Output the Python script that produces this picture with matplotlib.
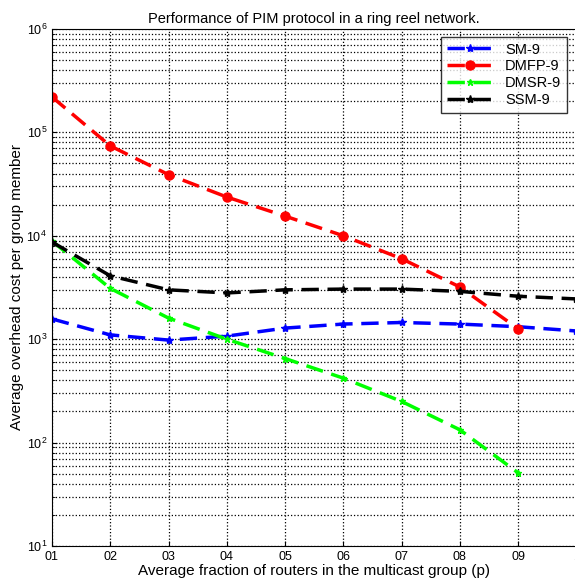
import numpy as np
import matplotlib
matplotlib.use('Agg')
import matplotlib.pyplot as plt
from matplotlib.ticker import LogLocator, NullFormatter

plt.rcParams['font.family'] = ['Liberation Sans', 'DejaVu Sans']

# Data
p = [0.1, 0.2, 0.3, 0.4, 0.5, 0.6, 0.7, 0.8, 0.9, 1.0]
sm9 = [1570, 1100, 980, 1070, 1280, 1400, 1450, 1400, 1320, 1200]
dmfp9 = [220000, 74000, 39000, 23700, 15500, 10000, 6000, 3200, 1260]
dmsr9 = [8900, 3100, 1600, 1000, 650, 420, 250, 133, 51]
ssm9 = [8700, 4100, 3000, 2800, 3000, 3050, 3050, 2900, 2600, 2450]
xtick_labels = ['01', '02', '03', '04', '05', '06', '07', '08', '09', '1']

fig = plt.figure(figsize=(5.75, 5.79), dpi=100)
ax = fig.add_axes([0.0904, 0.057, 0.912, 0.893])

dash = (0, (5, 2.5))
ax.plot(p, sm9, color='#0000ff', linestyle=dash, linewidth=2.5,
        marker='*', markersize=6, label='SM-9')
ax.plot(p[:len(dmfp9)], dmfp9, color='#ff0000', linestyle=dash, linewidth=2.5,
        marker='o', markersize=6.5, markerfacecolor='#ff0000', label='DMFP-9')
ax.plot(p[:len(dmsr9)], dmsr9, color='#00ff00', linestyle=dash, linewidth=2.5,
        marker='*', markersize=5, label='DMSR-9')
ax.plot(p, ssm9, color='black', linestyle=dash, linewidth=2.5,
        marker='*', markersize=6, label='SSM-9')

ax.set_yscale('log')
ax.set_ylim(10, 1e6)
ax.set_xlim(0.1, 1.0)
ax.set_xticks(p)
ax.set_xticklabels(xtick_labels, fontsize=9)
ax.yaxis.set_major_locator(LogLocator(base=10))
ax.yaxis.set_minor_locator(LogLocator(base=10, subs=np.arange(2, 10)))
ax.yaxis.set_minor_formatter(NullFormatter())
ax.tick_params(axis='y', labelsize=9)
ax.tick_params(direction='in', which='both')

ax.grid(True, which='major', linestyle=':', color='black', linewidth=0.9)
ax.grid(True, which='minor', axis='y', linestyle=':', color='black', linewidth=0.9)

ax.set_title('Performance of PIM protocol in a ring reel network.', fontsize=10.5, pad=4)
ax.set_xlabel('Average fraction of routers in the multicast group (p)', fontsize=11, labelpad=1)
ax.set_ylabel('Average overhead cost per group member', fontsize=11, labelpad=2)

leg = ax.legend(loc='upper right', bbox_to_anchor=(0.982, 0.985), borderaxespad=0,
                fontsize=10.5, frameon=True, fancybox=False, edgecolor='black',
                handlelength=3.2, borderpad=0.4, labelspacing=0.2)
leg.get_frame().set_linewidth(1.0)

fig.savefig('out.png', dpi=100)
